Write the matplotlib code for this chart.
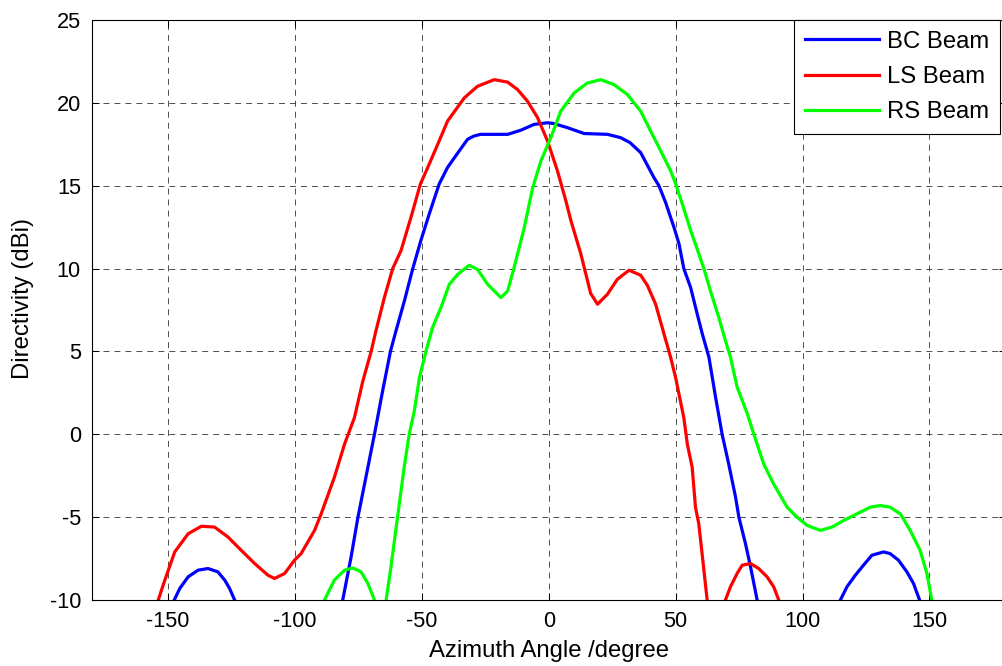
import matplotlib
matplotlib.use("Agg")
import matplotlib.pyplot as plt
import numpy as np

nan = np.nan

# BC beam (lobes separated by NaN where curve drops below -10 dBi)
bc_angle = [-147.6, -145.4, -142.1, -138.2, -134.3, -130.4, -127.7, -125.8, -123.8, nan,
            -81.2, -77.9, -75.2, -71.3, -68.7, -65.5, -62.4, -60.2, -56.9, -53.6, -50.4,
            -47.1, -43.2, -39.9, -35.3, -32.0, -29.5, -26.8, -16.2, -11.0, -5.8, -0.5, 2.0,
            7.4, 13.9, 23.1, 28.3, 32.0, 36.2, 41.4, 43.4, 46.0, 49.3, 51.3, 53.2, 55.9,
            58.5, 60.5, 63.1, 65.7, 68.3, 70.9, 73.6, 74.9, 77.5, 79.5, 82.1, nan,
            114.9, 117.5, 120.8, 124.0, 127.3, 131.9, 134.5, 137.8, 141.1, 143.7, 146.1]
bc_dbi = [-10, -9.3, -8.6, -8.2, -8.1, -8.3, -8.8, -9.3, -10, nan,
          -10, -7.4, -5.0, -2.0, 0.0, 2.6, 5.0, 6.25, 8.05, 10.0, 11.7,
          13.3, 15.1, 16.1, 17.1, 17.8, 18.0, 18.1, 18.1, 18.35, 18.7, 18.8, 18.75,
          18.5, 18.15, 18.1, 17.9, 17.6, 17.0, 15.5, 15.0, 14.0, 12.5, 11.5, 10.0, 8.85,
          7.25, 6.05, 4.65, 2.25, 0.0, -1.8, -3.8, -5.0, -6.6, -8.0, -10, nan,
          -10, -9.2, -8.5, -7.9, -7.3, -7.1, -7.2, -7.6, -8.3, -9.0, -10]

# LS beam
ls_angle = [-153.9, -151.3, -147.4, -142.1, -136.9, -131.7, -126.4, -121.2, -115.9, -110.7,
            -108.1, -104.1, -100.2, -97.6, -92.3, -89.7, -84.5, -80.5, -76.6, -73.3, -70.0,
            -68.1, -64.8, -61.5, -58.2, -54.3, -50.6, -47.7, -43.2, -39.9, -33.3, -28.1,
            -21.5, -16.2, -12.3, -8.4, -4.4, -0.5, 3.4, 6.7, 8.7, 12.6, 16.5, 19.2, 23.1,
            27.0, 31.6, 36.2, 38.8, 42.1, 45.4, 48.0, 50.0, 53.2, 54.6, 56.5, 57.8, 59.1,
            60.4, 62.4, nan,
            69.6, 71.6, 74.2, 76.2, 79.5, 82.7, 86.0, 88.6, 90.6]
ls_dbi = [-10, -8.8, -7.1, -6.0, -5.55, -5.6, -6.2, -7.0, -7.8, -8.5,
          -8.7, -8.4, -7.6, -7.2, -5.8, -4.8, -2.6, -0.6, 1.0, 3.2, 5.0,
          6.25, 8.25, 10.0, 11.1, 13.1, 15.1, 16.1, 17.7, 18.9, 20.3, 21.0,
          21.4, 21.25, 20.8, 20.1, 19.1, 17.7, 15.9, 14.1, 12.9, 10.9, 8.5, 7.85, 8.45,
          9.35, 9.9, 9.6, 9.0, 7.85, 6.05, 4.65, 3.4, 1.0, -0.6, -2.0, -4.4, -5.4,
          -7.2, -10, nan,
          -10, -9.2, -8.4, -7.9, -7.8, -8.1, -8.6, -9.2, -10]

# RS beam
rs_angle = [-88.4, -84.5, -80.5, -77.2, -74.0, -71.3, -68.7, nan,
            -64.1, -62.2, -59.6, -57.0, -55.0, -53.0, -51.0, -48.4, -45.8, -42.5, -39.2,
            -35.9, -31.4, -28.1, -24.1, -18.9, -16.2, -13.7, -9.7, -6.4, -3.1, 0.8, 4.7,
            10.0, 15.2, 20.5, 25.7, 31.0, 36.2, 40.1, 42.8, 48.0, 50.0, 52.6, 55.9, 59.1,
            61.1, 63.7, 67.0, 69.6, 71.6, 74.2, 78.2, 80.8, 84.7, 88.6, 93.9, 97.8, 101.8,
            107.0, 111.6, 116.2, 121.4, 126.7, 130.6, 134.5, 138.5, 142.4, 146.3, 149.0,
            150.9]
rs_dbi = [-10, -8.8, -8.2, -8.07, -8.3, -9.0, -10, nan,
          -10, -8.0, -5.0, -2.0, 0.0, 1.4, 3.4, 5.0, 6.45, 7.65, 9.05,
          9.65, 10.2, 9.95, 9.05, 8.25, 8.65, 10.05, 12.45, 14.85, 16.5, 17.9, 19.5,
          20.6, 21.2, 21.4, 21.1, 20.5, 19.5, 18.3, 17.5, 15.9, 15.1, 13.9, 12.3, 10.9,
          10.0, 8.65, 7.05, 5.65, 4.65, 2.85, 1.25, 0.0, -1.8, -3.0, -4.4, -5.0, -5.5,
          -5.8, -5.6, -5.2, -4.8, -4.4, -4.3, -4.4, -4.8, -5.8, -7.0, -8.4,
          -10]

x_ticks = [-150, -100, -50, 0, 50, 100, 150]
y_ticks = [-10, -5, 0, 5, 10, 15, 20, 25]

plt.rcParams['font.family'] = ['Liberation Sans', 'DejaVu Sans']
plt.rcParams['lines.scale_dashes'] = False
plt.rcParams['axes.unicode_minus'] = False

fig = plt.figure(figsize=(10.02, 6.66), dpi=100)
ax = fig.add_axes([92 / 1002, 66 / 666, 913.6 / 1002, 580 / 666])

ax.plot(bc_angle, bc_dbi, color=(0, 0, 1), lw=2.3, label='BC Beam')
ax.plot(ls_angle, ls_dbi, color=(1, 0, 0), lw=2.3, label='LS Beam')
ax.plot(rs_angle, rs_dbi, color=(0, 1, 0), lw=2.3, label='RS Beam')

ax.set_xlim(-180, 180)
ax.set_ylim(-10, 25)
ax.set_xticks(x_ticks)
ax.set_yticks(y_ticks)
ax.grid(True, color='0.2', linestyle=(0, (4.3, 3.6)), linewidth=0.6)
ax.tick_params(direction='in', length=5, width=0.75, top=True, right=True,
               labelsize=15.7, pad=8)
for s in ax.spines.values():
    s.set_linewidth(0.8)

ax.set_xlabel('Azimuth Angle /degree', fontsize=17.2, labelpad=6)
ax.set_ylabel('Directivity (dBi)', fontsize=17.2)
ax.yaxis.set_label_coords(-0.063, 0.519)

leg = ax.legend(loc='upper right', bbox_to_anchor=((1000 - 92) / 913.6, 1.0),
                borderaxespad=0, fontsize=17.2, fancybox=False, framealpha=1,
                edgecolor='black', handlelength=3.1, handletextpad=0.35,
                labelspacing=0.55, borderpad=0.45)
leg.get_frame().set_linewidth(0.8)

fig.savefig('out.png', dpi=100)
